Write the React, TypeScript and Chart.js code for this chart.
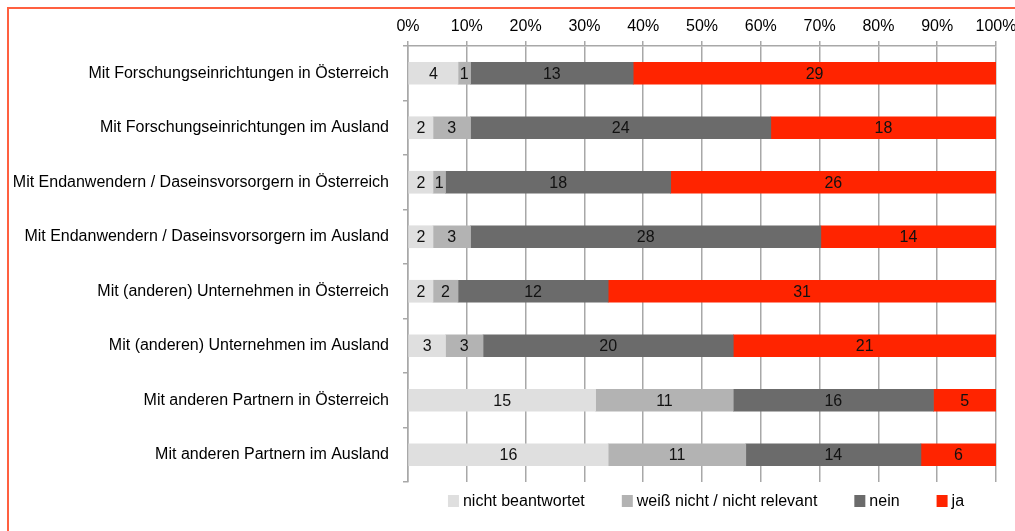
import React, { useEffect, useRef } from "react";
import { Chart, registerables } from "chart.js";

Chart.register(...registerables);

const categories = [
  "Mit Forschungseinrichtungen in Österreich",
  "Mit Forschungseinrichtungen im Ausland",
  "Mit Endanwendern / Daseinsvorsorgern in Österreich",
  "Mit Endanwendern / Daseinsvorsorgern im Ausland",
  "Mit (anderen) Unternehmen in Österreich",
  "Mit (anderen) Unternehmen im Ausland",
  "Mit anderen Partnern in Österreich",
  "Mit anderen Partnern im Ausland",
];

const seriesNames = ["nicht beantwortet", "weiß nicht / nicht relevant", "nein", "ja"];
const nichtBeantwortet = [4, 2, 2, 2, 2, 3, 15, 16];
const weissNicht = [1, 3, 1, 3, 2, 3, 11, 11];
const nein = [13, 24, 18, 28, 12, 20, 16, 14];
const ja = [29, 18, 26, 14, 31, 21, 5, 6];
const seriesColors = ["#DFDFDF", "#B3B3B3", "#6B6B6B", "#FF2400"];
const xTickValues = [0, 10, 20, 30, 40, 50, 60, 70, 80, 90, 100];

const FONT = "'Liberation Sans', Arial, sans-serif";

const seriesCounts = [nichtBeantwortet, weissNicht, nein, ja];
const totals = categories.map((_, i) => seriesCounts.reduce((s, arr) => s + arr[i], 0));

const valueLabels = {
  id: "valueLabels",
  afterDatasetsDraw(chart: any) {
    const ctx = chart.ctx;
    ctx.save();
    ctx.font = `16px ${FONT}`;
    ctx.fillStyle = "#111111";
    ctx.textAlign = "center";
    ctx.textBaseline = "middle";
    chart.data.datasets.forEach((ds: any, di: number) => {
      const meta = chart.getDatasetMeta(di);
      meta.data.forEach((el: any, i: number) => {
        const { x, base, y } = el.getProps(["x", "base", "y"], true);
        const c = ds.counts[i];
        if (!c) return;
        ctx.fillText(String(c), (x + base) / 2, y + 1);
      });
    });
    ctx.restore();
  },
};

const customLegend = {
  id: "customLegend",
  afterDraw(chart: any) {
    const ctx = chart.ctx;
    const area = chart.chartArea;
    ctx.save();
    ctx.font = `16px ${FONT}`;
    const box = 11;
    const gapBoxText = 4;
    const gapItems = 37;
    const items = chart.data.datasets.map((ds: any) => ({
      text: ds.label,
      color: ds.backgroundColor,
      w: ctx.measureText(ds.label).width,
    }));
    const total =
      items.reduce((s: number, it: any) => s + box + gapBoxText + it.w, 0) +
      gapItems * (items.length - 1);
    let x = (area.left + area.right) / 2 + 4 - total / 2;
    const cy = 501;
    ctx.textBaseline = "middle";
    ctx.textAlign = "left";
    items.forEach((it: any) => {
      ctx.fillStyle = it.color;
      ctx.fillRect(x, cy - 6, box, 12);
      ctx.fillStyle = "#000000";
      ctx.fillText(it.text, x + box + gapBoxText, cy + 1);
      x += box + gapBoxText + it.w + gapItems;
    });
    ctx.restore();
  },
};

export default function App() {
  const ref = useRef<HTMLCanvasElement | null>(null);

  useEffect(() => {
    if (!ref.current) return;
    const datasets = seriesCounts.map((arr, si) => ({
      label: seriesNames[si],
      data: arr.map((v, i) => (v / totals[i]) * 100),
      counts: arr,
      backgroundColor: seriesColors[si],
      borderWidth: 0,
      barThickness: 22,
    }));
    const chart = new Chart(ref.current, {
      type: "bar",
      data: { labels: categories, datasets: datasets as any },
      options: {
        indexAxis: "y",
        animation: false,
        responsive: false,
        devicePixelRatio: 1,
        layout: { padding: { left: 0, right: 19, top: 0, bottom: 49 } },
        plugins: {
          legend: { display: false },
          tooltip: { enabled: false },
        },
        scales: {
          x: {
            position: "top",
            stacked: true,
            min: 0,
            max: 100,
            afterBuildTicks: (s: any) => {
              s.ticks = xTickValues.map((v) => ({ value: v }));
            },
            ticks: {
              callback: (v: any) => `${v}%`,
              font: { family: FONT, size: 16 },
              color: "#000000",
              padding: 5,
              maxRotation: 0,
            },
            grid: { color: "#A8A8A8", lineWidth: 1.5, tickLength: 5 },
            border: { color: "#A8A8A8", width: 1.5 },
            afterFit: (s: any) => {
              s.height = 46;
              s.paddingLeft = 0;
              s.paddingRight = 0;
            },
          },
          y: {
            stacked: true,
            ticks: {
              font: { family: FONT, size: 16 },
              color: "#000000",
              padding: 14,
            },
            grid: {
              drawOnChartArea: false,
              drawTicks: true,
              tickLength: 5,
              color: "#A8A8A8",
              lineWidth: 1.5,
              offset: true,
            },
            border: { color: "#A8A8A8", width: 1.5 },
            afterFit: (s: any) => {
              s.width = 408;
            },
          },
        },
      },
      plugins: [valueLabels, customLegend],
    });
    return () => chart.destroy();
  }, []);

  return (
    <div style={{ position: "fixed", left: 0, top: 0, width: 1015, height: 531, background: "#fff" }}>
      <canvas ref={ref} width={1015} height={531} style={{ position: "absolute", left: 0, top: 0 }} />
      <div
        style={{
          position: "absolute",
          left: 7,
          top: 7,
          width: 1008,
          height: 524,
          boxSizing: "border-box",
          borderLeft: "2px solid #FF6040",
          borderTop: "2px solid #FF6040",
          pointerEvents: "none",
        }}
      />
    </div>
  );
}
